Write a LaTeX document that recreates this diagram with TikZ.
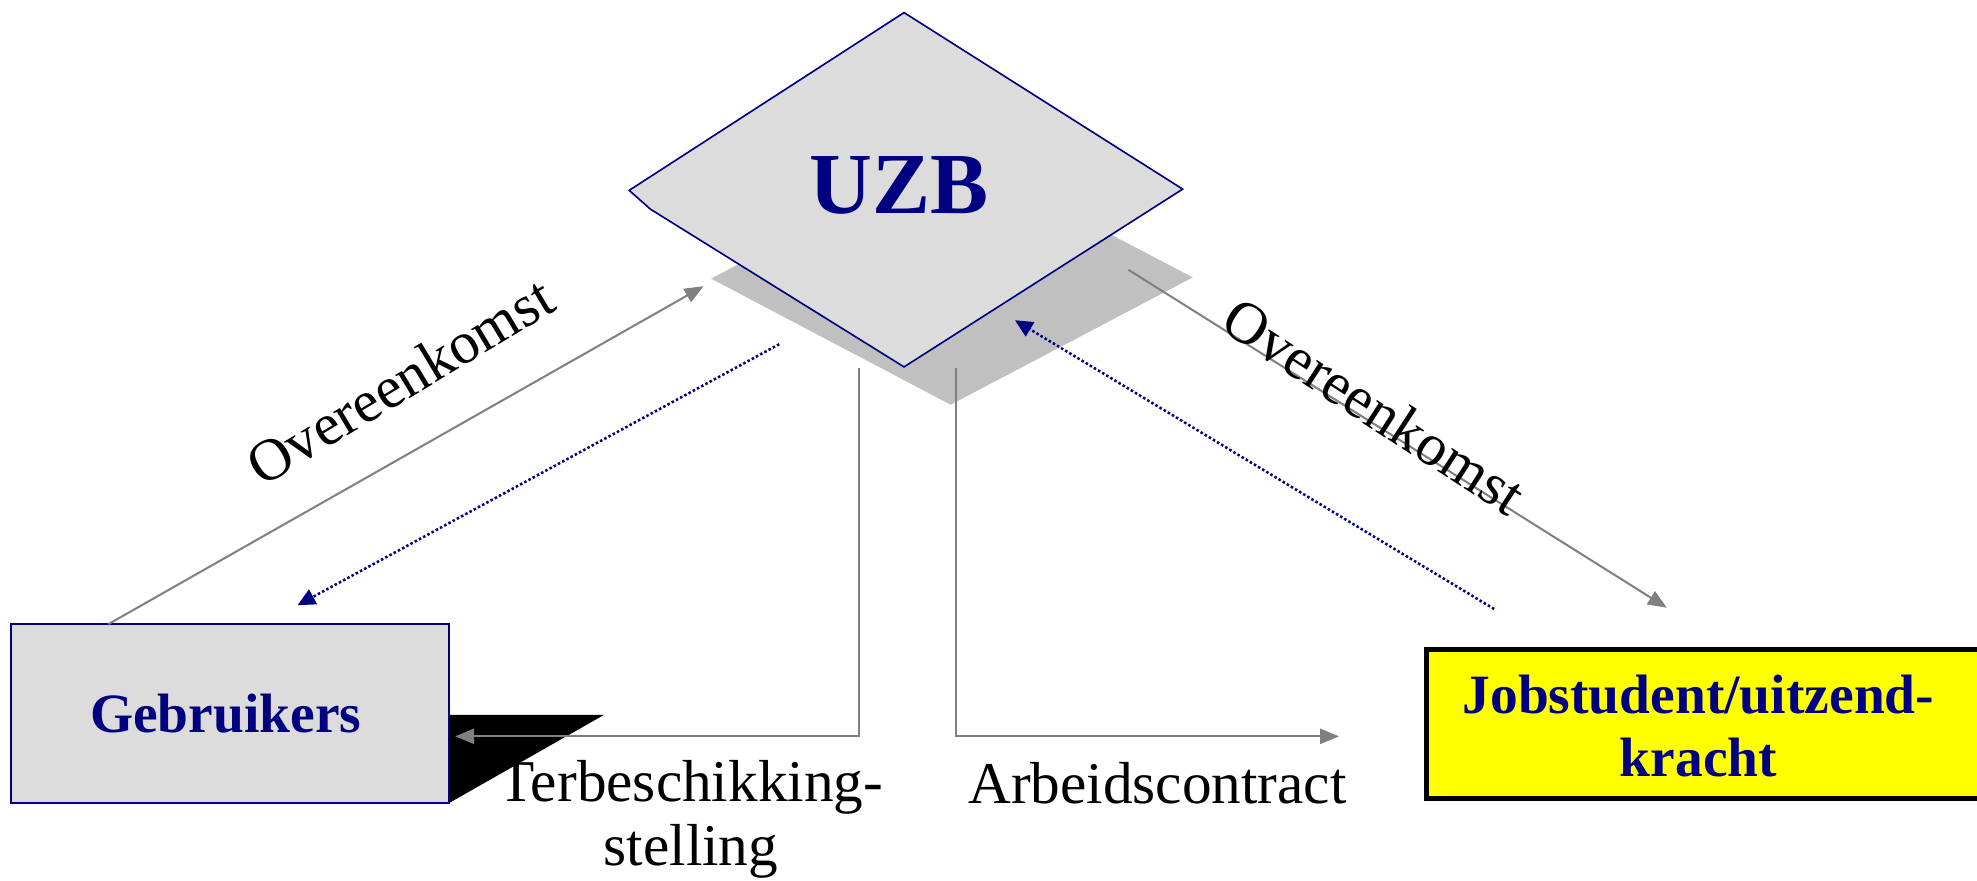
\documentclass[tikz,border=0pt]{standalone}
\usepackage{fontspec}
\setmainfont{Liberation Serif}
\usetikzlibrary{arrows.meta}
\definecolor{navyc}{HTML}{000080}
\definecolor{boxgray}{HTML}{DCDCDC}
\definecolor{shadowgray}{HTML}{C0C0C0}
\definecolor{linegray}{HTML}{808080}
\definecolor{jobyellow}{HTML}{FFFF00}
\tikzset{
  garrow/.style={draw=linegray, line width=1.6pt, -{Triangle[length=15pt,width=12pt]}},
  narrow/.style={draw=navyc, line width=2pt, dash pattern=on 2pt off 1.8pt, -{Triangle[length=14pt,width=13pt]}},
  lbl/.style={font=\fontsize{47}{51}\selectfont, text=black, inner sep=0pt},
  boxtxt/.style={font=\bfseries\fontsize{44}{50}\selectfont, text=navyc},
}
\begin{document}
\begin{tikzpicture}[x=1pt,y=-1pt]
\useasboundingbox (0,0) rectangle (1568,698);
% shadow of UZB diamond
\fill[shadowgray] (564,221) -- (755,120) -- (946,220) -- (754,321) -- cycle;
% UZB diamond
\draw[navyc, line width=1.3pt, fill=boxgray] (717,10) -- (938,150) -- (717,291) -- (516,166) -- (499,151) -- cycle;
\node[font=\bfseries\fontsize{69}{69}\selectfont, text=navyc, inner sep=0pt] (uzb) at (713,147) {UZB};
% Gebruikers box with black shadow
\fill[black] (356,567) -- (479,567) -- (356,637) -- cycle;
\node[draw=navyc, line width=1.4pt, fill=boxgray, minimum width=347pt, minimum height=142pt, inner sep=0pt] (geb) at (182.5,566) {};
\node[boxtxt, inner sep=0pt] (gebtxt) at (179,566) {Gebruikers};
% Jobstudent box
\draw[black, line width=4pt, fill=jobyellow] (1131,515) rectangle (1590,633);
\node[boxtxt, align=center, inner sep=0pt] (job) at (1347,576) {Jobstudent/uitzend-\\kracht};
% coordinates for free ends
\coordinate (a1s) at (86,495);
\coordinate (a1e) at (558,227);
\coordinate (a2s) at (895,214);
\coordinate (a2e) at (1322,482);
\coordinate (d1s) at (618,273);
\coordinate (d1e) at (236,480);
\coordinate (d2s) at (1185,483);
\coordinate (d2e) at (805,254);
\coordinate (v1s) at (681,292);
\coordinate (v1e) at (361,584);
\coordinate (v2s) at (758,292);
\coordinate (v2e) at (1062,584);
% connectors
\draw[garrow] (a1s) -- (a1e);
\draw[garrow] (a2s) -- (a2e);
\draw[narrow] (d1s) -- (d1e);
\draw[narrow] (d2s) -- (d2e);
\draw[garrow] (v1s) |- (v1e);
\draw[garrow] (v2s) |- (v2e);
% labels
\node[lbl, rotate=31] (ov1) at (317,302) {Overeenkomst};
\node[lbl, rotate=-33] (ov2) at (1090,322) {Overeenkomst};
\node[lbl, align=center] (terb) at (548,650) {Terbeschikking-\\stelling};
\node[lbl, anchor=base] (arb) at (918,637) {Arbeidscontract};
\end{tikzpicture}
\end{document}
